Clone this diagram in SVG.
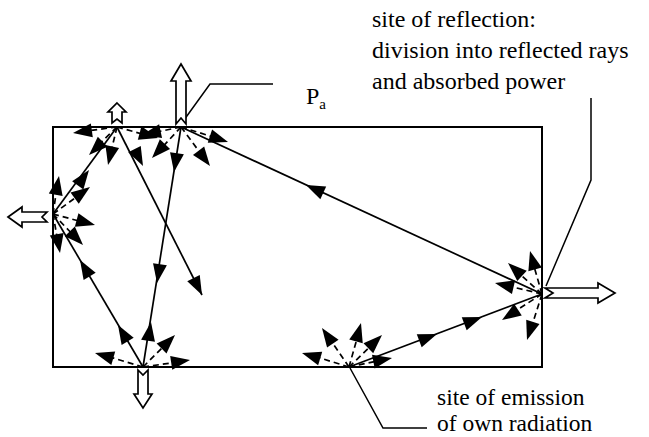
<svg xmlns="http://www.w3.org/2000/svg" xmlns:xlink="http://www.w3.org/1999/xlink" width="649" height="437" viewBox="0 0 649 437">
<style>
.box{fill:none;stroke:#000;stroke-width:2}
.ray{fill:none;stroke:#000;stroke-width:1.7}
.dash{fill:none;stroke:#000;stroke-width:1.7;stroke-dasharray:6 4}
.hollow{fill:#fff;stroke:#000;stroke-width:1.7;stroke-linejoin:miter}
.lead{fill:none;stroke:#000;stroke-width:1.5}
</style>
<defs>
<path id="ah" d="M0,0 L-19,-7 L-19,7 Z" fill="#000"/>
</defs>
<rect width="649" height="437" fill="#fff"/>
<rect class="box" x="53" y="127" width="489" height="240"/>

<g id="connectors">
<line class="ray" x1="542" y1="294" x2="181" y2="127"/>
<use xlink:href="#ah" transform="translate(306,185) rotate(204.8)"/>
<line class="ray" x1="181" y1="127" x2="143" y2="367"/>
<use xlink:href="#ah" transform="translate(174,172) rotate(99)"/>
<use xlink:href="#ah" transform="translate(157,283) rotate(99)"/>
<use xlink:href="#ah" transform="translate(151,322) rotate(-81)"/>
<line class="ray" x1="143" y1="367" x2="53" y2="214"/>
<use xlink:href="#ah" transform="translate(80,260) rotate(239.5)"/>
<use xlink:href="#ah" transform="translate(118,325) rotate(239.5)"/>
<line class="ray" x1="53" y1="214" x2="117" y2="127"/>
<use xlink:href="#ah" transform="translate(89,170) rotate(-53.7)"/>
<line class="ray" x1="117" y1="127" x2="202" y2="295"/>
<use xlink:href="#ah" transform="translate(143,166) rotate(63.4)"/>
<use xlink:href="#ah" transform="translate(202,295) rotate(63.4)"/>
<line class="ray" x1="349" y1="367" x2="542" y2="294"/>
<use xlink:href="#ah" transform="translate(437,334) rotate(-20.7)"/>
<use xlink:href="#ah" transform="translate(482,317) rotate(-20.7)"/>
<polyline class="lead" points="184,120 210,84 273,84"/>
<polyline class="lead" points="546,286 591,180 591,98"/>
<polyline class="lead" points="350,368 383,428 427,428"/>
</g>

<g id="site1">
<line class="dash" x1="117" y1="127" x2="78" y2="132"/>
<use xlink:href="#ah" transform="translate(73,133) rotate(172)"/>
<line class="dash" x1="117" y1="127" x2="153" y2="137"/>
<use xlink:href="#ah" transform="translate(158,138) rotate(15)"/>
<line class="dash" x1="117" y1="127" x2="109" y2="160"/>
<use xlink:href="#ah" transform="translate(108,165) rotate(103)"/>
<line class="dash" x1="117" y1="127" x2="92" y2="151"/>
<use xlink:href="#ah" transform="translate(89,155) rotate(136)"/>
<polygon class="hollow" points="117,103 126,112 122,112 122,123 117,119 112,123 112,112 108,112"/>
</g>

<g id="site2">
<line class="dash" x1="181" y1="127" x2="147" y2="134"/>
<use xlink:href="#ah" transform="translate(142,135) rotate(168)"/>
<line class="dash" x1="181" y1="127" x2="156" y2="154"/>
<use xlink:href="#ah" transform="translate(152,158) rotate(133)"/>
<line class="dash" x1="181" y1="127" x2="207" y2="162"/>
<use xlink:href="#ah" transform="translate(210,166) rotate(53)"/>
<line class="dash" x1="181" y1="127" x2="223" y2="140"/>
<use xlink:href="#ah" transform="translate(228,142) rotate(18)"/>
<polygon class="hollow" points="181,64 191,81 186,81 186,124 181,118 176,124 176,81 171,81"/>
</g>

<g id="site3">
<line class="dash" x1="53" y1="214" x2="58" y2="181"/>
<use xlink:href="#ah" transform="translate(59,176) rotate(-80)"/>
<line class="dash" x1="53" y1="214" x2="86" y2="190"/>
<use xlink:href="#ah" transform="translate(90,187) rotate(-36)"/>
<line class="dash" x1="53" y1="214" x2="90" y2="224"/>
<use xlink:href="#ah" transform="translate(95,225) rotate(15)"/>
<line class="dash" x1="53" y1="214" x2="80" y2="242"/>
<use xlink:href="#ah" transform="translate(83,245) rotate(46)"/>
<line class="dash" x1="53" y1="214" x2="59" y2="248"/>
<use xlink:href="#ah" transform="translate(60,253) rotate(80)"/>
<polygon class="hollow" points="8,217 22,207 22,212 47,212 42,217 47,222 22,222 22,227"/>
</g>

<g id="site4">
<line class="dash" x1="143" y1="367" x2="100" y2="354"/>
<use xlink:href="#ah" transform="translate(95,353) rotate(196)"/>
<line class="dash" x1="143" y1="367" x2="171" y2="339"/>
<use xlink:href="#ah" transform="translate(175,335) rotate(-45)"/>
<line class="dash" x1="143" y1="367" x2="185" y2="361"/>
<use xlink:href="#ah" transform="translate(190,360) rotate(-8.5)"/>
<polygon class="hollow" points="138,370 143,375 148,370 148,394 152,394 143,408 134,394 138,394"/>
</g>

<g id="site5">
<line class="dash" x1="349" y1="367" x2="307" y2="354"/>
<use xlink:href="#ah" transform="translate(302,353) rotate(-163)"/>
<line class="dash" x1="349" y1="367" x2="325" y2="332"/>
<use xlink:href="#ah" transform="translate(322,328) rotate(-124.7)"/>
<line class="dash" x1="349" y1="367" x2="360" y2="328"/>
<use xlink:href="#ah" transform="translate(361,323) rotate(-74.7)"/>
<line class="dash" x1="349" y1="367" x2="378" y2="339"/>
<use xlink:href="#ah" transform="translate(382,335) rotate(-44)"/>
<line class="dash" x1="349" y1="367" x2="387" y2="359"/>
<use xlink:href="#ah" transform="translate(392,358) rotate(-11)"/>
</g>

<g id="site6">
<line class="dash" x1="542" y1="294" x2="531" y2="256"/>
<use xlink:href="#ah" transform="translate(530,251) rotate(-105.6)"/>
<line class="dash" x1="542" y1="294" x2="512" y2="267"/>
<use xlink:href="#ah" transform="translate(508,263) rotate(-137.6)"/>
<line class="dash" x1="542" y1="294" x2="500" y2="284"/>
<use xlink:href="#ah" transform="translate(495,283) rotate(-167)"/>
<line class="dash" x1="542" y1="294" x2="506" y2="317"/>
<use xlink:href="#ah" transform="translate(502,320) rotate(147)"/>
<line class="dash" x1="542" y1="294" x2="529" y2="335"/>
<use xlink:href="#ah" transform="translate(527,340) rotate(108)"/>
<polygon class="hollow" points="545,288 598,288 598,283 615,293 598,303 598,298 545,298 553,293"/>
</g>

<g id="labels" font-family="'Liberation Serif', 'Times New Roman', 'DejaVu Serif', serif" fill="#000">
<text x="306" y="104" font-size="24">P<tspan font-size="15" dy="5">a</tspan></text>
<text x="372" y="27" font-size="24">site of reflection:</text>
<text x="372" y="58" font-size="24">division into reflected rays</text>
<text x="372" y="89" font-size="24">and absorbed power</text>
<text x="437" y="405" font-size="23.5">site of emission</text>
<text x="437" y="431" font-size="23.5">of own radiation</text>
</g>
</svg>
